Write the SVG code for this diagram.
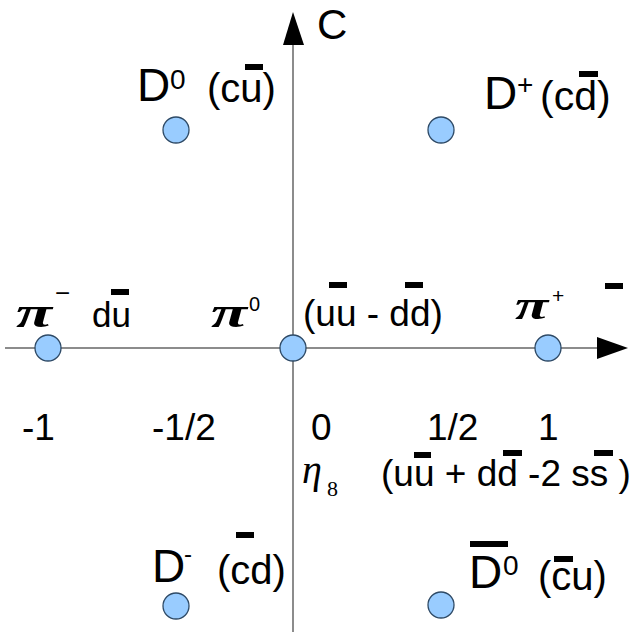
<svg xmlns="http://www.w3.org/2000/svg" width="634" height="633" viewBox="0 0 634 633">
<style>
.s{font-family:"Liberation Sans",Arial,sans-serif;fill:#000}
.pi{font-family:"Liberation Serif","Times New Roman",serif;font-style:italic;font-weight:bold;fill:#000}
.eta{font-family:"Liberation Serif","Times New Roman",serif;font-style:italic;fill:#000}
.num{font-family:"Liberation Serif","Times New Roman",serif;fill:#000}
.node{fill:#99ccff;stroke:#2e4a66;stroke-width:1.3}
.ax{stroke:#666;stroke-width:1.5;fill:none}
.bar{fill:#000}
</style>
<rect width="634" height="633" fill="#fff"/>
<g id="connectors">
<line class="ax" x1="293" y1="44" x2="293" y2="632"/>
<polygon points="293,12 283,45 304,45" fill="#000"/>
<line class="ax" x1="5" y1="348" x2="598" y2="348"/>
<polygon points="628,348 597,337 597,359" fill="#000"/>
</g>
<text class="s" x="317" y="39" font-size="42">C</text>
<g id="D0">
<circle class="node" cx="176" cy="130" r="13"/>
<text class="s" x="137" y="101" font-size="46">D</text>
<text class="s" x="170" y="89" font-size="28">0</text>
<text class="s" x="207" y="102" font-size="40">(cu)</text>
<rect class="bar" x="245" y="64" width="18" height="6"/>
</g>
<g id="Dplus">
<circle class="node" cx="441" cy="130" r="13"/>
<text class="s" x="484" y="109" font-size="46">D</text>
<text class="s" x="517" y="94" font-size="28">+</text>
<text class="s" x="540" y="110" font-size="41">(cd)</text>
<rect class="bar" x="579" y="71" width="19" height="6"/>
</g>
<g id="piminus">
<circle class="node" cx="48" cy="348" r="13"/>
<text class="pi" transform="translate(16,327) scale(1.5,1)" font-size="44">π</text>
<text class="s" x="55" y="302" font-size="26">−</text>
<text class="s" x="92" y="327" font-size="35">du</text>
<rect class="bar" x="111" y="289" width="18" height="6"/>
</g>
<g id="pizero">
<circle class="node" cx="293" cy="348" r="13"/>
<text class="pi" transform="translate(211,327) scale(1.5,1)" font-size="44">π</text>
<text class="s" x="249" y="311" font-size="20">0</text>
<text class="s" x="303" y="326" font-size="37">(uu - dd)</text>
<rect class="bar" x="329" y="282" width="18" height="6"/>
<rect class="bar" x="405" y="282" width="18" height="6"/>
</g>
<g id="piplus">
<circle class="node" cx="548" cy="348" r="13"/>
<text class="pi" transform="translate(515,319) scale(1.45,1)" font-size="42">π</text>
<text class="s" x="552" y="303" font-size="21">+</text>
<rect class="bar" x="605" y="283" width="18" height="6"/>
</g>
<g id="labels">
<text class="s" x="22" y="440" font-size="37">-1</text>
<text class="s" x="152" y="440" font-size="37">-1/2</text>
<text class="s" x="311" y="440" font-size="37">0</text>
<text class="s" x="427" y="440" font-size="37">1/2</text>
<text class="s" x="538" y="440" font-size="37">1</text>
</g>
<g id="eta8">
<text class="eta" x="302" y="483" font-size="40">η</text>
<text class="num" x="327" y="496" font-size="22">8</text>
<text class="s" x="381" y="486" font-size="37">(uu + dd -2 ss )</text>
<rect class="bar" x="414" y="452" width="17" height="6"/>
<rect class="bar" x="503" y="450" width="19" height="6"/>
<rect class="bar" x="594" y="450" width="19" height="6"/>
</g>
<g id="Dminus">
<circle class="node" cx="176" cy="606" r="13"/>
<text class="s" x="152" y="582" font-size="46">D</text>
<text class="s" x="184" y="562" font-size="24">-</text>
<text class="s" x="217" y="584" font-size="40">(cd)</text>
<rect class="bar" x="236" y="532" width="18" height="6"/>
</g>
<g id="D0bar">
<circle class="node" cx="441" cy="605" r="13"/>
<rect class="bar" x="470" y="541" width="38" height="6"/>
<text class="s" x="469" y="588" font-size="46">D</text>
<text class="s" x="503" y="575" font-size="28">0</text>
<text class="s" x="538" y="590" font-size="40">(cu)</text>
<rect class="bar" x="554" y="556" width="19" height="6"/>
</g>
</svg>
